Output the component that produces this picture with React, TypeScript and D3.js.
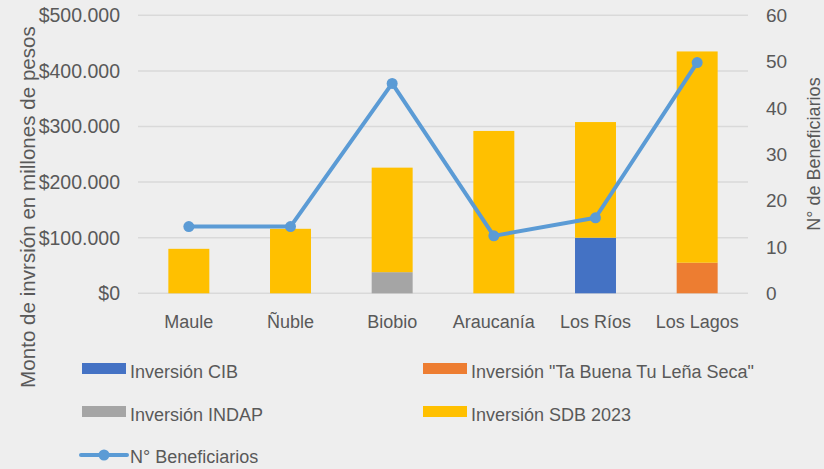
import React from "react";
import * as d3 from "d3";

const categories = ["Maule", "Ñuble", "Biobio", "Araucanía", "Los Ríos", "Los Lagos"];
const invCIB = [0, 0, 0, 0, 100000, 0];
const invLena = [0, 0, 0, 0, 0, 55000];
const invINDAP = [0, 0, 38000, 0, 0, 0];
const invSDB = [80000, 116000, 188000, 292000, 208000, 380000];
const beneficiarios = [14.4, 14.4, 45.3, 12.4, 16.3, 49.8];
const leftTicks = [0, 100000, 200000, 300000, 400000, 500000];
const rightTicks = [0, 10, 20, 30, 40, 50, 60];

const seriesDefs = [
  { name: "Inversión CIB", values: invCIB, color: "#4472C4" },
  { name: "Inversión \"Ta Buena Tu Leña Seca\"", values: invLena, color: "#ED7D31" },
  { name: "Inversión INDAP", values: invINDAP, color: "#A5A5A5" },
  { name: "Inversión SDB 2023", values: invSDB, color: "#FFC000" },
];

const W = 824;
const H = 469;
const FONT = "'Liberation Sans', Arial, sans-serif";
const TEXT = "#595959";
const LINE = "#5B9BD5";

export default function App() {
  const x = d3.scaleBand<string>().domain(categories).range([138, 748]).paddingInner(0.597).paddingOuter(0.2985);
  const yL = d3.scaleLinear().domain([0, 500000]).range([293.3, 15.3]);
  const yR = d3.scaleLinear().domain([0, 60]).range([293.3, 15.3]);
  const fmt = (v: number) => "$" + d3.format(",")(v).replace(/,/g, ".");

  const stackData = categories.map((c, i) => {
    const row: any = { cat: c };
    seriesDefs.forEach((s) => (row[s.name] = s.values[i]));
    return row;
  });
  const stack = d3.stack<any>().keys(seriesDefs.map((s) => s.name));
  const layers = stack(stackData);

  const lineGen = d3
    .line<number>()
    .x((_, i) => (x(categories[i]) as number) + x.bandwidth() / 2)
    .y((d) => yR(d));

  const legendItems = [
    { ...seriesDefs[0], lx: 82, ly: 363 },
    { ...seriesDefs[1], lx: 423, ly: 363 },
    { ...seriesDefs[2], lx: 82, ly: 406 },
    { ...seriesDefs[3], lx: 423, ly: 406 },
  ];

  return (
    <svg width={W} height={H} style={{ position: "absolute", left: 0, top: 0, background: "#EEEEEE" }} fontFamily={FONT}>
      <rect x={0} y={0} width={W} height={H} fill="#EEEEEE" />
      {leftTicks.map((t) => (
        <line key={t} x1={138} x2={748} y1={yL(t)} y2={yL(t)} stroke="#D9D9D9" strokeWidth={1.5} />
      ))}
      {layers.map((layer, li) => (
        <g key={li} fill={seriesDefs[li].color}>
          {layer.map((d, i) =>
            d[1] - d[0] > 0 ? (
              <rect key={i} x={x(categories[i])} width={x.bandwidth()} y={yL(d[1])} height={yL(d[0]) - yL(d[1])} />
            ) : null
          )}
        </g>
      ))}
      <path d={lineGen(beneficiarios) || ""} fill="none" stroke={LINE} strokeWidth={4} strokeLinejoin="round" />
      {beneficiarios.map((v, i) => (
        <circle key={i} cx={(x(categories[i]) as number) + x.bandwidth() / 2} cy={yR(v)} r={5.5} fill={LINE} />
      ))}
      {leftTicks.map((t) => (
        <text key={t} x={120} y={yL(t)} dy="0.35em" textAnchor="end" fontSize={19.5} fill={TEXT}>
          {fmt(t)}
        </text>
      ))}
      {rightTicks.map((t) => (
        <text key={t} x={766} y={yR(t)} dy="0.35em" textAnchor="start" fontSize={19} fill={TEXT}>
          {t}
        </text>
      ))}
      {categories.map((c) => (
        <text key={c} x={(x(c) as number) + x.bandwidth() / 2} y={328} textAnchor="middle" fontSize={18} fill={TEXT}>
          {c}
        </text>
      ))}
      <text transform="translate(35,207) rotate(-90)" textAnchor="middle" fontSize={20.6} fill={TEXT}>
        Monto de invrsión en millones de pesos
      </text>
      <text transform="translate(820,154) rotate(-90)" textAnchor="middle" fontSize={18} fill={TEXT}>
        N° de Beneficiarios
      </text>
      {legendItems.map((it) => (
        <g key={it.name}>
          <rect x={it.lx} y={it.ly} width={44} height={11} fill={it.color} />
          <text x={it.lx + 48} y={it.ly + 15} fontSize={18} fill={TEXT}>
            {it.name}
          </text>
        </g>
      ))}
      <g>
        <line x1={81} x2={127} y1={455} y2={455} stroke={LINE} strokeWidth={4} strokeLinecap="round" />
        <circle cx={104} cy={455} r={5.5} fill={LINE} />
        <text x={130} y={463} fontSize={18} fill={TEXT}>
          N° Beneficiarios
        </text>
      </g>
    </svg>
  );
}
